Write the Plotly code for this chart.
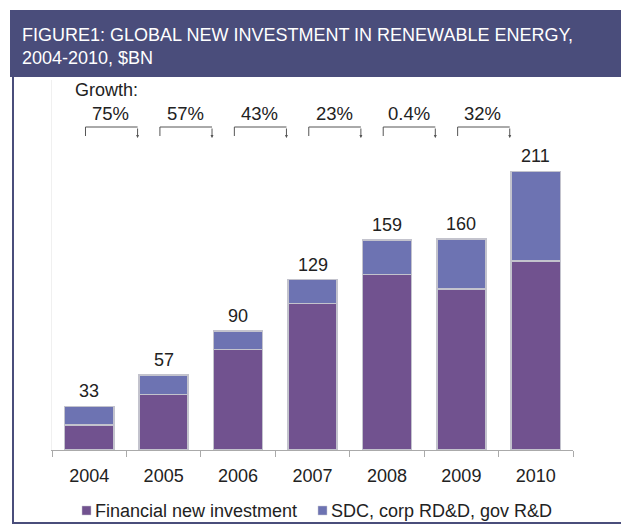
import plotly.graph_objects as go

years = ["2004", "2005", "2006", "2007", "2008", "2009", "2010"]
financial = [19, 42, 76, 111, 133, 122, 143]
sdc_rd = [14, 15, 14, 18, 26, 38, 68]
totals = [33, 57, 90, 129, 159, 160, 211]
growth_labels = ["75%", "57%", "43%", "23%", "0.4%", "32%"]
series_names = ["Financial new investment", "SDC, corp RD&D, gov R&D"]

C_FIN = "#71528f"
C_SDC = "#6d73b2"
C_HEAD = "#4a4d7b"
C_TEXT = "#222222"
FONT = "Liberation Sans, Arial, sans-serif"

# page body has an 8px margin; the figure is sized/positioned to compensate
OFF = 8
W, H = 629 - OFF, 529 - OFF
L = 52 - OFF
T = 80 - OFF
R = W - (573 - OFF)
B = H - (450 - OFF)
PW, PH = W - L - R, H - T - B
YMAX = 280.3


def px(x):  # reference-pixel x -> paper
    return (x - OFF - L) / PW


def py(y):  # reference-pixel y -> paper
    return (450 - y) / PH


def ydata(y):  # reference-pixel y -> data
    return (450 - y) / PH * YMAX


fig = go.Figure()
outline = dict(color="rgba(195,195,205,1)", width=1.5)
fig.add_trace(go.Bar(x=years, y=financial, name=series_names[0],
                     marker=dict(color=C_FIN, line=outline), showlegend=False))
fig.add_trace(go.Bar(x=years, y=sdc_rd, name=series_names[1],
                     marker=dict(color=C_SDC, line=outline), showlegend=False))

annotations = []
shapes = []

for i, t in enumerate(totals):
    annotations.append(dict(x=i, y=t, xref="x", yref="y", text=str(t), showarrow=False,
                            yanchor="bottom", yshift=3,
                            font=dict(size=18, color=C_TEXT, family=FONT)))

annotations.append(dict(x=px(73), y=ydata(90), xref="paper", yref="y", text="Growth:",
                        showarrow=False, xanchor="left", yanchor="middle",
                        font=dict(size=18, color=C_TEXT, family=FONT)))
for i, g in enumerate(growth_labels):
    x0, x1 = i - 0.05, i + 0.65
    yb, yl, yt = ydata(127), ydata(136), ydata(138)
    annotations.append(dict(x=i + 0.29, y=ydata(113), xref="x", yref="y", text=g,
                            showarrow=False, yanchor="middle",
                            font=dict(size=18.5, color=C_TEXT, family=FONT)))
    shapes.append(dict(type="path", xref="x", yref="y",
                       path=f"M {x0},{yl} L {x0},{yb} L {x1},{yb}",
                       line=dict(color="#555555", width=1)))
    annotations.append(dict(x=x1, y=yt, ax=x1, ay=yb, xref="x", yref="y",
                            axref="x", ayref="y", text="", showarrow=True,
                            arrowhead=2, arrowsize=0.6, arrowwidth=1,
                            arrowcolor="#555555"))

# manual legend
for name, col, sx in [(series_names[0], C_FIN, 82), (series_names[1], C_SDC, 318)]:
    shapes.append(dict(type="rect", xref="paper", yref="paper",
                       x0=px(sx), x1=px(sx + 9), y0=py(515), y1=py(506),
                       fillcolor=col, line=dict(color="rgba(200,200,210,1)", width=0.5)))
    annotations.append(dict(x=px(sx + 11), y=py(511), xref="paper", yref="paper",
                            text=name, showarrow=False, xanchor="left", yanchor="middle",
                            font=dict(size=18, color=C_TEXT, family=FONT)))

shapes.append(dict(type="rect", xref="paper", yref="paper", x0=px(10), x1=px(640),
                   y0=py(77), y1=py(10), fillcolor=C_HEAD, line=dict(width=0), layer="below"))
shapes.append(dict(type="path", xref="paper", yref="paper",
                   path=f"M {px(13)},{py(77)} L {px(13)},{py(523)} L {px(626)},{py(523)} L {px(626)},{py(77)}",
                   line=dict(color=C_HEAD, width=2)))
annotations.append(dict(x=px(20), y=py(46), xref="paper", yref="paper",
                        text="FIGURE1: GLOBAL NEW INVESTMENT IN RENEWABLE ENERGY,<br>2004-2010, $BN",
                        showarrow=False, xanchor="left", yanchor="middle", align="left",
                        font=dict(size=18, color="white", family=FONT)))

fig.update_layout(
    width=W, height=H,
    margin=dict(l=L, r=R, t=T, b=B),
    paper_bgcolor="white", plot_bgcolor="white",
    barmode="stack", bargap=0.34,
    annotations=annotations, shapes=shapes,
    font=dict(family=FONT, color=C_TEXT),
)
fig.update_xaxes(showline=True, linecolor="#aaaaaa", linewidth=1, ticks="outside",
                 tickson="boundaries", ticklen=6, tickcolor="#aaaaaa",
                 tickfont=dict(size=18, color=C_TEXT, family=FONT),
                 ticklabelstandoff=9, showgrid=False, fixedrange=True)
fig.update_yaxes(range=[0, YMAX], visible=True, showticklabels=False, showgrid=False,
                 zeroline=False, showline=True, linecolor="#f0f0f0", ticks="")

fig.write_html("out.html")
